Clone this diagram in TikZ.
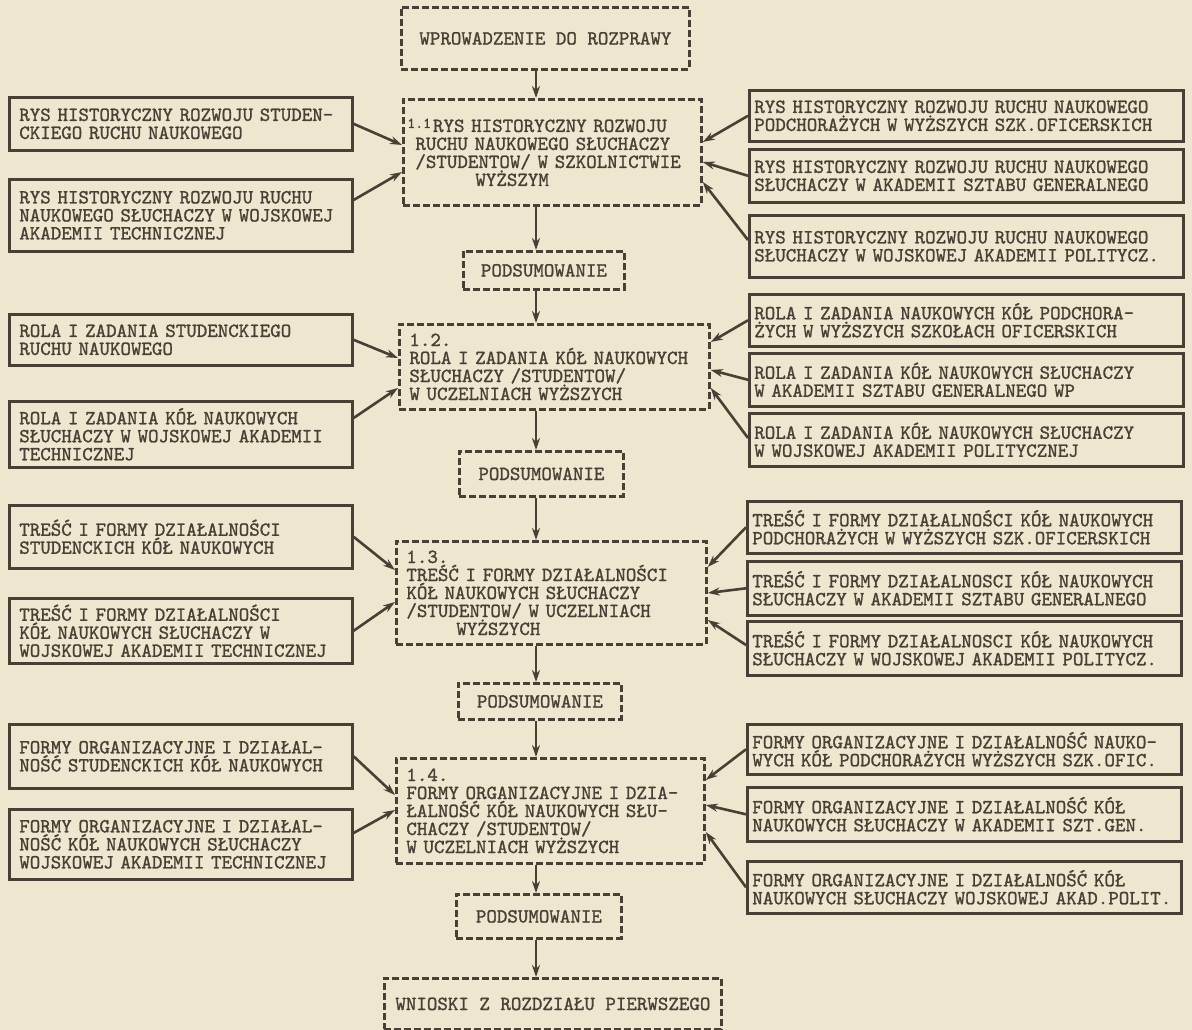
\documentclass[tikz,border=0pt]{standalone}
\usepackage{fontspec}
\usetikzlibrary{arrows.meta}

\newfontfamily\typefont{lmmono10-regular.otf}[FakeBold=1.2]
\definecolor{ink}{RGB}{72,64,52}
\definecolor{paper}{RGB}{238,230,207}
\newcommand\secnum[1]{\raisebox{4pt}{\fontsize{15}{15}\selectfont #1}}

\begin{document}
\begin{tikzpicture}[x=1pt,y=-1pt,
        every node/.style={font=\typefont\fontsize{20}{18}\selectfont,text=ink},
        lbox/.style={draw=ink,line width=2.6pt,anchor=north west,align=left,
            inner xsep=10pt,inner ysep=4pt,text width=323pt},
        rbox/.style={draw=ink,line width=2.6pt,anchor=north west,align=left,
            inner xsep=5pt,inner ysep=4pt,text width=424pt},
        dbox/.style={draw=ink,line width=2.8pt,dash pattern=on 7pt off 3pt,anchor=north west},
        arr/.style={draw=ink,line width=2.6pt,-{Stealth[length=12pt,width=8pt]}}]

    \useasboundingbox (0,0) rectangle (1192,1030);
    \fill[paper] (0,0) rectangle (1192,1030);
    \coordinate (spine) at (536,0);

    \node[dbox,minimum width=288pt,minimum height=62pt] (intro) at (400,6) {WPROWADZENIE DO ROZPRAWY};
    \node[dbox,align=left,minimum width=298pt,minimum height=106pt,inner xsep=12pt,text width=274pt] (c1) at (402,98)
        {\hspace*{-8pt}\secnum{1.1}\hspace{2pt}RYS HISTORYCZNY ROZWOJU\\RUCHU NAUKOWEGO SŁUCHACZY\\/STUDENTOW/ W SZKOLNICTWIE\\\hspace*{60pt}WYŻSZYM};
    \node[dbox,minimum width=161pt,minimum height=38pt] (p1) at (462,250) {PODSUMOWANIE};
    \node[dbox,align=left,minimum width=310pt,minimum height=85pt,inner xsep=10pt,text width=290pt] (c2) at (398,323)
        {1.2.\\ROLA I ZADANIA KÓŁ NAUKOWYCH\\SŁUCHACZY /STUDENTOW/\\W UCZELNIACH WYŻSZYCH};
    \node[dbox,minimum width=164pt,minimum height=45pt] (p2) at (458,450) {PODSUMOWANIE};
    \node[dbox,align=left,minimum width=310pt,minimum height=103pt,inner xsep=10pt,text width=290pt] (c3) at (395,540)
        {1.3.\\TREŚĆ I FORMY DZIAŁALNOŚCI\\KÓŁ NAUKOWYCH SŁUCHACZY\\/STUDENTOW/ W UCZELNIACH\\\hspace*{50pt}WYŻSZYCH};
    \node[dbox,minimum width=163pt,minimum height=36pt] (p3) at (457,682) {PODSUMOWANIE};
    \node[dbox,align=left,minimum width=308pt,minimum height=105pt,inner xsep=10pt,text width=288pt] (c4) at (395,757)
        {1.4.\\FORMY ORGANIZACYJNE I DZIA-\\ŁALNOŚĆ KÓŁ NAUKOWYCH SŁU-\\CHACZY /STUDENTOW/\\W UCZELNIACH WYŻSZYCH};
    \node[dbox,minimum width=165pt,minimum height=44pt] (p4) at (455,893) {PODSUMOWANIE};
    \node[dbox,minimum width=337pt,minimum height=51pt] (concl) at (383,977) {WNIOSKI Z ROZDZIAŁU PIERWSZEGO};

    \node[lbox,minimum height=53pt] (l1a) at (8,96) {RYS HISTORYCZNY ROZWOJU STUDEN-\\CKIEGO RUCHU NAUKOWEGO};
    \node[lbox,minimum height=72pt] (l1b) at (8,178) {RYS HISTORYCZNY ROZWOJU RUCHU\\NAUKOWEGO SŁUCHACZY W WOJSKOWEJ\\AKADEMII TECHNICZNEJ};
    \node[lbox,minimum height=51pt] (l2a) at (8,313) {ROLA I ZADANIA STUDENCKIEGO\\RUCHU NAUKOWEGO};
    \node[lbox,minimum height=66pt] (l2b) at (8,400) {ROLA I ZADANIA KÓŁ NAUKOWYCH\\SŁUCHACZY W WOJSKOWEJ AKADEMII\\TECHNICZNEJ};
    \node[lbox,minimum height=63pt] (l3a) at (8,504) {TREŚĆ I FORMY DZIAŁALNOŚCI\\STUDENCKICH KÓŁ NAUKOWYCH};
    \node[lbox,minimum height=65pt] (l3b) at (8,597) {TREŚĆ I FORMY DZIAŁALNOŚCI\\KÓŁ NAUKOWYCH SŁUCHACZY W\\WOJSKOWEJ AKADEMII TECHNICZNEJ};
    \node[lbox,minimum height=64pt] (l4a) at (8,723) {FORMY ORGANIZACYJNE I DZIAŁAL-\\NOŚĆ STUDENCKICH KÓŁ NAUKOWYCH};
    \node[lbox,minimum height=70pt] (l4b) at (8,808) {FORMY ORGANIZACYJNE I DZIAŁAL-\\NOŚĆ KÓŁ NAUKOWYCH SŁUCHACZY\\WOJSKOWEJ AKADEMII TECHNICZNEJ};

    \node[rbox,minimum height=51pt] (r1a) at (748,89) {RYS HISTORYCZNY ROZWOJU RUCHU NAUKOWEGO\\PODCHORAŻYCH W WYŻSZYCH SZK.OFICERSKICH};
    \node[rbox,minimum height=53pt] (r1b) at (748,148) {RYS HISTORYCZNY ROZWOJU RUCHU NAUKOWEGO\\SŁUCHACZY W AKADEMII SZTABU GENERALNEGO};
    \node[rbox,minimum height=62pt] (r1c) at (748,214) {RYS HISTORYCZNY ROZWOJU RUCHU NAUKOWEGO\\SŁUCHACZY W WOJSKOWEJ AKADEMII POLITYCZ.};
    \node[rbox,minimum height=52pt] (r2a) at (748,293) {ROLA I ZADANIA NAUKOWYCH KÓŁ PODCHORA-\\ŻYCH W WYŻSZYCH SZKOŁACH OFICERSKICH};
    \node[rbox,minimum height=53pt] (r2b) at (748,352) {ROLA I ZADANIA KÓŁ NAUKOWYCH SŁUCHACZY\\W AKADEMII SZTABU GENERALNEGO WP};
    \node[rbox,minimum height=53pt] (r2c) at (748,412) {ROLA I ZADANIA KÓŁ NAUKOWYCH SŁUCHACZY\\W WOJSKOWEJ AKADEMII POLITYCZNEJ};
    \node[rbox,minimum height=52pt] (r3a) at (746,500) {TREŚĆ I FORMY DZIAŁALNOŚCI KÓŁ NAUKOWYCH\\PODCHORAŻYCH W WYŻSZYCH SZK.OFICERSKICH};
    \node[rbox,minimum height=54pt] (r3b) at (746,560) {TREŚĆ I FORMY DZIAŁALNOSCI KÓŁ NAUKOWYCH\\SŁUCHACZY W AKADEMII SZTABU GENERALNEGO};
    \node[rbox,minimum height=54pt] (r3c) at (746,620) {TREŚĆ I FORMY DZIAŁALNOSCI KÓŁ NAUKOWYCH\\SŁUCHACZY W WOJSKOWEJ AKADEMII POLITYCZ.};
    \node[rbox,minimum height=50pt] (r4a) at (746,723) {FORMY ORGANIZACYJNE I DZIAŁALNOŚĆ NAUKO-\\WYCH KÓŁ PODCHORAŻYCH WYŻSZYCH SZK.OFIC.};
    \node[rbox,minimum height=54pt] (r4b) at (746,786) {FORMY ORGANIZACYJNE I DZIAŁALNOŚĆ KÓŁ\\NAUKOWYCH SŁUCHACZY W AKADEMII SZT.GEN.};
    \node[rbox,minimum height=52pt] (r4c) at (746,860) {FORMY ORGANIZACYJNE I DZIAŁALNOŚĆ KÓŁ\\NAUKOWYCH SŁUCHACZY WOJSKOWEJ AKAD.POLIT.};

    \draw[arr] (intro.south -| spine) -- (c1.north -| spine);
    \draw[arr] (c1.south -| spine) -- (p1.north -| spine);
    \draw[arr] (p1.south -| spine) -- (c2.north -| spine);
    \draw[arr] (c2.south -| spine) -- (p2.north -| spine);
    \draw[arr] (p2.south -| spine) -- (c3.north -| spine);
    \draw[arr] (c3.south -| spine) -- (p3.north -| spine);
    \draw[arr] (p3.south -| spine) -- (c4.north -| spine);
    \draw[arr] (c4.south -| spine) -- (p4.north -| spine);
    \draw[arr] (p4.south -| spine) -- (concl.north -| spine);

    \draw[arr] (l1a.east) -- ([yshift=-47pt]c1.north west);
    \draw[arr] ([yshift=-22pt]l1b.north east) -- ([yshift=-74pt]c1.north west);
    \draw[arr] (l2a.east) -- ([yshift=-35pt]c2.north west);
    \draw[arr] ([yshift=-18pt]l2b.north east) -- ([yshift=-65pt]c2.north west);
    \draw[arr] (l3a.east) -- ([yshift=-30pt]c3.north west);
    \draw[arr] (l3b.east) -- ([yshift=-62pt]c3.north west);
    \draw[arr] (l4a.east) -- ([yshift=-38pt]c4.north west);
    \draw[arr] ([yshift=-25pt]l4b.north east) -- ([yshift=-53pt]c4.north west);

    \draw[arr] (r1a.west) -- ([yshift=-44pt]c1.north east);
    \draw[arr] (r1b.west) -- ([yshift=-64pt]c1.north east);
    \draw[arr] ([yshift=-26pt]r1c.north west) -- ([yshift=-84pt]c1.north east);
    \draw[arr] (r2a.west) -- ([yshift=-19pt]c2.north east);
    \draw[arr] (r2b.west) -- ([yshift=-47pt]c2.north east);
    \draw[arr] ([yshift=-26pt]r2c.north west) -- ([yshift=-65pt]c2.north east);
    \draw[arr] (r3a.west) -- ([yshift=-27pt]c3.north east);
    \draw[arr] (r3b.west) -- ([yshift=-53pt]c3.north east);
    \draw[arr] ([yshift=-25pt]r3c.north west) -- ([yshift=-80pt]c3.north east);
    \draw[arr] (r4a.west) -- ([yshift=-23pt]c4.north east);
    \draw[arr] (r4b.west) -- ([yshift=-48pt]c4.north east);
    \draw[arr] (r4c.west) -- ([yshift=-75pt]c4.north east);
\end{tikzpicture}
\end{document}
